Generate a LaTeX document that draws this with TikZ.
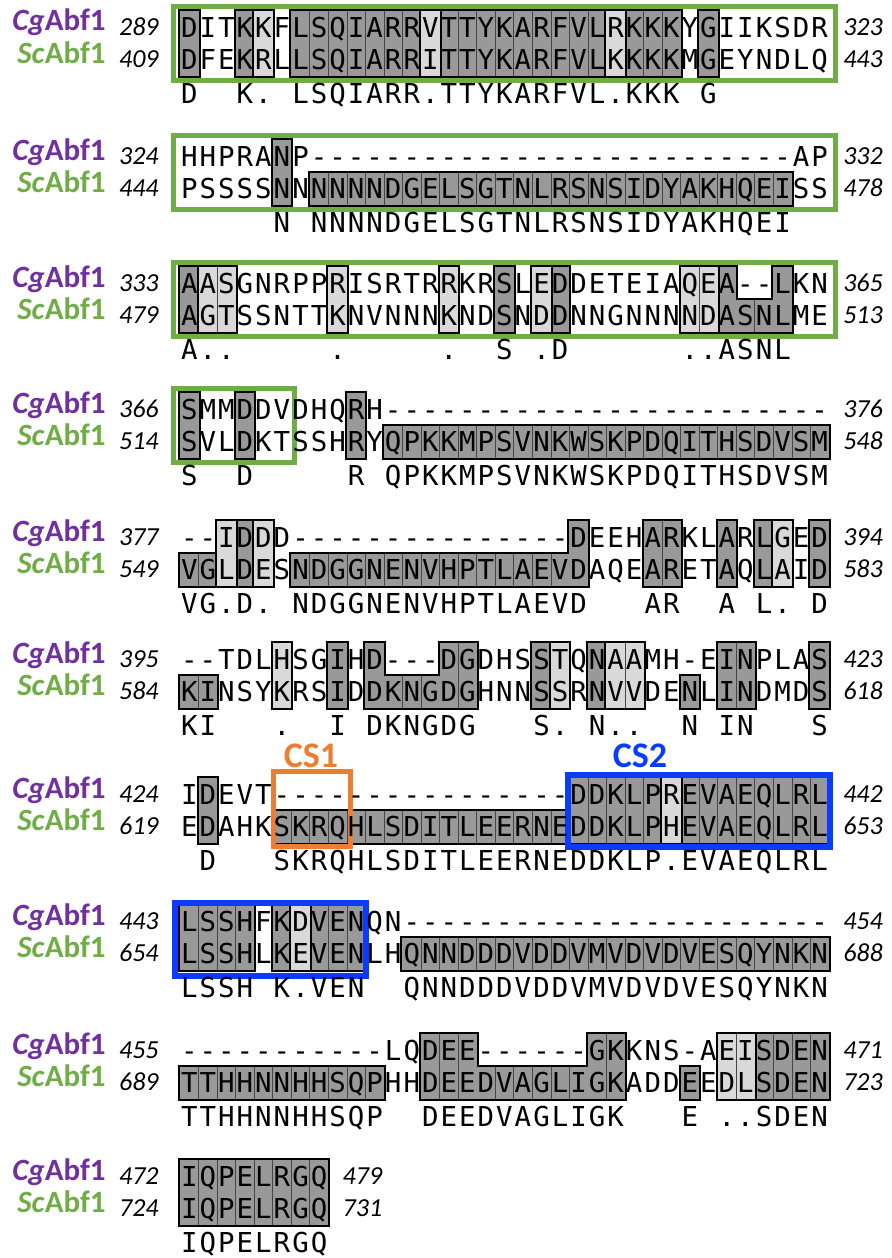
\documentclass[tikz,border=0pt]{standalone}
\usepackage{fontspec}
\setmonofont{DejaVu Sans Mono}
\newfontfamily\labfont{Carlito}
\usepackage{tikz}
\frenchspacing

\definecolor{dk}{HTML}{999999}
\definecolor{lt}{HTML}{D9D9D9}
\definecolor{cgpurple}{HTML}{7030A0}
\definecolor{scgreen}{HTML}{70AD47}
\definecolor{csorange}{HTML}{ED7D31}
\definecolor{csblue}{HTML}{0A3CFF}

\tikzset{
  resid/.style={font={\ttfamily\fontsize{13.7}{14}\selectfont}, anchor=base, inner sep=0pt},
  cglab/.style={font={\labfont\bfseries\fontsize{15.5}{16}\selectfont}, text=cgpurple, anchor=base east, inner sep=0pt},
  sclab/.style={font={\labfont\bfseries\fontsize{15.5}{16}\selectfont}, text=scgreen, anchor=base east, inner sep=0pt},
  posnum/.style={font={\labfont\itshape\fontsize{13}{13}\selectfont}, inner sep=0pt},
  cslab/.style={font={\labfont\bfseries\fontsize{18}{18}\selectfont}, anchor=base, inner sep=0pt},
  grbox/.style={draw=scgreen, line width=2.5pt},
  cellsep/.style={draw=gray!55!black, line width=0.3pt},
}

% shaded cells: fill colour, block y, list of col1/col2/row1/row2
\newcommand{\shadecells}[3]{%
  \foreach \ca/\cb/\ra/\rb in {#3}
    \draw[line width=2pt] ({180+(\ca-1)*18.54},{#2-16+(\ra-1)*32.5}) rectangle ({180+\cb*18.54},{#2-16+\rb*32.5});
  \foreach \ca/\cb/\ra/\rb in {#3}{
    \fill[#1] ({180+(\ca-1)*18.54},{#2-16+(\ra-1)*32.5}) rectangle ({180+\cb*18.54},{#2-16+\rb*32.5});
    \foreach \k in {\ca,...,\cb}{\ifnum\k>\ca\relax
      \draw[cellsep] ({180+(\k-1)*18.54},{#2-16+(\ra-1)*32.5}) -- ({180+(\k-1)*18.54},{#2-16+\rb*32.5});\fi}
  }}

% one row of residues, _ = empty column
\newcommand{\seqrow}[3]{\def\resname{#1}\def\resy{#2}\def\rescol{0}\seqnext#3\relax}
\newcommand{\seqnext}[1]{%
  \ifx\relax#1\else
    \pgfmathtruncatemacro\rescol{\rescol+1}%
    \ifx_#1\else\node[resid] (\resname\rescol) at ({180+(\rescol-0.5)*18.54},{\resy}) {#1};\fi
    \expandafter\seqnext
  \fi}

% id, y, Cg first, Sc first, Cg last, Sc last, Cg, Sc, consensus
\newcommand{\alnblock}[9]{%
  \node[cglab] (cg#1) at (106,{#2+4}) {\textit{Cg}Abf1};
  \node[sclab] (sc#1) at (106,{#2+36.5}) {\textit{Sc}Abf1};
  \node[posnum, anchor=base east] (cgs#1) at (159,{#2+8}) {#3};
  \node[posnum, anchor=base east] (scs#1) at (159,{#2+40.5}) {#4};
  \seqrow{cg#1r}{#2+10}{#7}
  \seqrow{sc#1r}{#2+42.5}{#8}
  \node[posnum, anchor=base west] (cge#1) at ({194+\rescol*18.54},{#2+8}) {#5};
  \node[posnum, anchor=base west] (sce#1) at ({194+\rescol*18.54},{#2+40.5}) {#6};
  \seqrow{co#1r}{#2+76}{#9}
}

\begin{document}
\begin{tikzpicture}[x=0.5pt,y=-0.5pt]
  \useasboundingbox (0,0) rectangle (891,1258);

  % block 1
  \shadecells{dk}{27}{1/1/1/2,4/4/1/2,7/13/1/2,15/23/1/2,25/27/1/2,29/29/1/2}
  \shadecells{lt}{27}{5/5/1/2,14/14/1/2,24/24/1/2}
  \draw[grbox] (173.5,6.5) rectangle (835.5,80.5);
  \alnblock{a}{27}{289}{409}{323}{443}{DITKKFLSQIARRVTTYKARFVLRKKKYGIIKSDR}{DFEKRLLSQIARRITTYKARFVLKKKKMGEYNDLQ}{D__K._LSQIARR.TTYKARFVL.KKK_G}

  % block 2
  \shadecells{dk}{156}{6/6/1/2,8/33/2/2}
  \draw[grbox] (173.5,135.5) rectangle (835.5,209.5);
  \alnblock{b}{156}{324}{444}{332}{478}{HHPRANP--------------------------AP}{PSSSSNNNNNNDGELSGTNLRSNSIDYAKHQEISS}{_____N_NNNNDGELSGTNLRSNSIDYAKHQEI}

  % block 3
  \shadecells{dk}{283}{1/1/1/2,18/18/1/2,21/21/1/2,30/30/1/2,31/32/2/2,33/33/1/2}
  \shadecells{lt}{283}{2/3/1/2,9/9/1/2,15/15/1/2,20/20/1/2,28/29/1/2}
  \draw[grbox] (173.5,262.5) rectangle (835.5,336.5);
  \alnblock{c}{283}{333}{479}{365}{513}{AASGNRPPRISRTRRKRSLEDDETEIAQEA--LKN}{AGTSSNTTKNVNNNKNDSNDDNNGNNNNDASNLME}{A.._____._____.__S_.D______..ASNL}

  % block 4
  \shadecells{dk}{409}{1/1/1/2,4/4/1/2,10/10/1/2,12/35/2/2}
  \draw[grbox] (173.5,388.5) rectangle (294,462.5);
  \alnblock{d}{409}{366}{514}{376}{548}{SMMDDVDHQRH------------------------}{SVLDKTSSHRYQPKKMPSVNKWSKPDQITHSDVSM}{S__D_____R_QPKKMPSVNKWSKPDQITHSDVSM}

  % block 5
  \shadecells{dk}{537}{1/2/2/2,4/4/1/2,7/21/2/2,22/22/1/2,26/27/1/2,30/30/1/2,32/32/1/2,35/35/1/2}
  \shadecells{lt}{537}{3/3/1/2,5/5/1/2,33/33/1/2}
  \alnblock{e}{537}{377}{549}{394}{583}{--IDDD---------------DEEHARKLARLGED}{VGLDESNDGGNENVHPTLAEVDAQEARETAQLAID}{VG.D._NDGGNENVHPTLAEVD___AR__A_L._D}

  % block 6
  \shadecells{dk}{659}{1/2/2/2,9/9/1/2,11/11/1/2,12/14/2/2,15/16/1/2,20/20/1/2,23/23/1/2,28/28/2/2,30/31/1/2,35/35/1/2}
  \shadecells{lt}{659}{6/6/1/2,21/21/1/2,24/25/1/2}
  \alnblock{f}{659}{395}{584}{423}{618}{--TDLHSGIHD---DGDHSSTQNAAMH-EINPLAS}{KINSYKRSIDDKNGDGHNNSSRNVVDENLINDMDS}{KI___.__I_DKNGDG___S._N..__N_IN___S}

  % block 7
  \shadecells{dk}{794}{2/2/1/2,6/26/2/2,22/26/1/2,28/35/1/2}
  \shadecells{lt}{794}{27/27/1/2}
  \draw[csorange, line width=2.5pt] (273.5,771.5) rectangle (350.5,846.5);
  \draw[csblue, line width=3pt] (568,775) rectangle (830,847);
  \node[cslab, text=csorange] (cs1) at (311,767.5) {CS1};
  \node[cslab, text=csblue] (cs2) at (640,767.5) {CS2};
  \alnblock{g}{794}{424}{619}{442}{653}{IDEVT----------------DDKLPREVAEQLRL}{EDAHKSKRQHLSDITLEERNEDDKLPHEVAEQLRL}{_D___SKRQHLSDITLEERNEDDKLP.EVAEQLRL}

  % block 8
  \shadecells{dk}{921}{1/4/1/2,6/6/1/2,8/10/1/2,13/35/2/2}
  \shadecells{lt}{921}{7/7/1/2}
  \draw[csblue, line width=3pt] (175,903) rectangle (366,976);
  \alnblock{h}{921}{443}{654}{454}{688}{LSSHFKDVENQN-----------------------}{LSSHLKEVENLHQNNDDDVDDVMVDVDVESQYNKN}{LSSH_K.VEN__QNNDDDVDDVMVDVDVESQYNKN}

  % block 9
  \shadecells{dk}{1050}{1/11/2/2,14/16/1/2,17/22/2/2,23/24/1/2,28/28/2/2,32/35/1/2}
  \shadecells{lt}{1050}{30/31/1/2}
  \alnblock{i}{1050}{455}{689}{471}{723}{-----------LQDEE------GKKNS-AEISDEN}{TTHHNNHHSQPHHDEEDVAGLIGKADDEEDLSDEN}{TTHHNNHHSQP__DEEDVAGLIGK___E_..SDEN}

  % block 10
  \shadecells{dk}{1176}{1/8/1/2}
  \alnblock{j}{1176}{472}{724}{479}{731}{IQPELRGQ}{IQPELRGQ}{IQPELRGQ}
\end{tikzpicture}
\end{document}
